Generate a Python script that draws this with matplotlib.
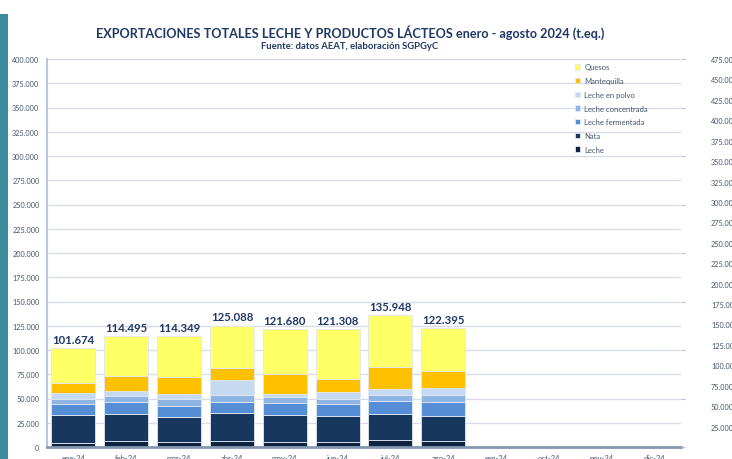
import matplotlib
matplotlib.use("Agg")
import matplotlib.pyplot as plt
from matplotlib.patches import Rectangle
import numpy as np

plt.rcParams['font.family'] = ['Lato', 'DejaVu Sans']

months = ["ene-24", "feb-24", "mar-24", "abr-24", "may-24", "jun-24",
          "jul-24", "ago-24", "sep-24", "oct-24", "nov-24", "dic-24"]

# toneladas equivalentes (ene-ago 2024)
leche        = [4300, 5700, 5000, 6700, 5300, 5300, 7700, 6700]
nata         = [28200, 28500, 26100, 28100, 27900, 26500, 26100, 25500]
fermentada   = [11600, 12400, 10700, 12100, 12300, 12300, 13800, 14400]
concentrada  = [5900, 5800, 7200, 6500, 6200, 5600, 6200, 6800]
polvo        = [5900, 5800, 5800, 15500, 3100, 7500, 6500, 7900]
mantequilla  = [9900, 15200, 17200, 12300, 20200, 13400, 22000, 16800]
quesos       = [35874, 41095, 42349, 43888, 46680, 50708, 53648, 44295]

series = [
    ("Leche", leche, "#0f243e"),
    ("Nata", nata, "#17375e"),
    ("Leche fermentada", fermentada, "#558ed5"),
    ("Leche concentrada", concentrada, "#8db4e2"),
    ("Leche en polvo", polvo, "#c5d9f1"),
    ("Mantequilla", mantequilla, "#ffc000"),
    ("Quesos", quesos, "#ffff66"),
]

W, H = 732, 460
fig = plt.figure(figsize=(W / 100, H / 100), dpi=100)

# teal strip on the left
fig.patches.append(Rectangle((0, 0), 8 / W, (H - 15) / H, transform=fig.transFigure,
                             facecolor="#3b8b9c", edgecolor="none"))

ax_l, ax_r, ax_t, ax_b = 47, 681, 60, 448
ax = fig.add_axes([ax_l / W, (H - ax_b) / H, (ax_r - ax_l) / W, (ax_b - ax_t) / H])

x = np.arange(len(leche))
bottom = np.zeros(len(leche))
handles = []
for name, vals, col in series:
    b = ax.bar(x, vals, width=0.83, bottom=bottom, color=col, edgecolor="#dfe7f3",
               linewidth=0.6, label=name, zorder=3)
    handles.append(b)
    bottom = bottom + np.array(vals)

def fmt(v):
    return f"{int(round(v)):,}".replace(",", ".")

for xi, tot in zip(x, bottom):
    ax.text(xi, tot + 3500, fmt(tot), ha="center", va="bottom", fontsize=8.2,
            fontweight="bold", color="#1f3864", zorder=4)

ax.set_xlim(-0.5, 11.5)
ax.set_ylim(0, 400000)
ax.set_xticks(np.arange(12))
ax.set_xticklabels(months)
yt = np.arange(0, 400001, 25000)
ax.set_yticks(yt)
ax.set_yticklabels([fmt(v) for v in yt])
ax.tick_params(axis="y", length=0, pad=5.5, labelsize=5.2, labelcolor="#44546a")
ax.tick_params(axis="x", length=0, pad=5, labelsize=5.5, labelcolor="#44546a")
ax.grid(axis="y", color="#d9dce8", linewidth=1.0, zorder=0)
ax.set_axisbelow(True)
for s in ["top", "right"]:
    ax.spines[s].set_visible(False)
ax.spines["left"].set_color("#b4c7e7")
ax.spines["left"].set_linewidth(1.5)
ax.spines["bottom"].set_color("#8497b0")
ax.spines["bottom"].set_linewidth(2)
ax.spines["bottom"].set_zorder(5)

# secondary axis labels (right)
ax2 = ax.twinx()
ax2.set_ylim(0, 475000 * (448 - 60) / (448.2 - 59))
rt = np.arange(25000, 475001, 25000)
ax2.set_yticks(rt)
ax2.set_yticklabels([fmt(v) for v in rt])
ax2.tick_params(axis="y", length=0, pad=21.6, labelsize=5.2, labelcolor="#44546a")
for s in ax2.spines.values():
    s.set_visible(False)

# small tick marks on the right edge
ax3 = ax.twinx()
ax3.set_ylim(ax.get_ylim())
ax3.set_yticks(np.arange(0, 400001, 50000))
ax3.tick_params(axis="y", length=3, width=0.8, color="#bfbfbf", labelright=False)
for s in ax3.spines.values():
    s.set_visible(False)

leg = fig.legend(handles[::-1], [s[0] for s in series][::-1], loc="upper left",
                 bbox_to_anchor=(575 / W, 1 - 64.5 / H), frameon=False, fontsize=5.5,
                 handlelength=0.7, handleheight=0.7, handletextpad=0.5,
                 labelspacing=0.88, borderpad=0, borderaxespad=0)
for t in leg.get_texts():
    t.set_color("#44546a")

fig.text(350 / W, 1 - 33 / H,
         "EXPORTACIONES TOTALES LECHE Y PRODUCTOS LÁCTEOS enero - agosto 2024 (t.eq.)",
         ha="center", va="center", fontsize=9.1, fontweight="bold", color="#1f3864")
fig.text(350 / W, 1 - 46.5 / H, "Fuente: datos AEAT, elaboración SGPGyC",
         ha="center", va="center", fontsize=6.8, fontweight="bold", color="#1f3864")

fig.savefig("out.png", dpi=100)
